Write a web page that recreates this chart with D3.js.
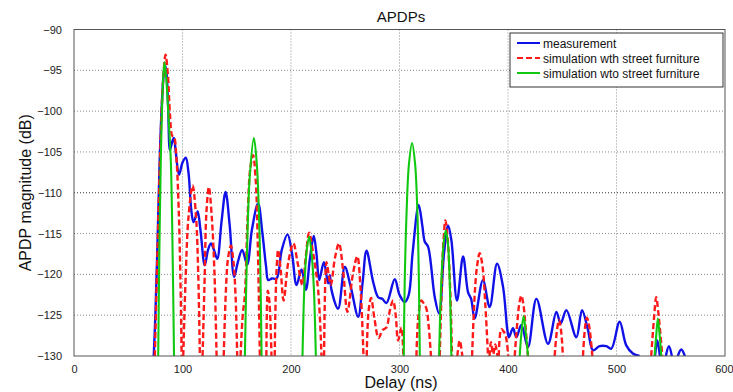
<!DOCTYPE html>
<html><head><meta charset="utf-8">
<script src="https://cdn.jsdelivr.net/npm/d3@7"></script>
<style>body{margin:0;background:#fff}svg{display:block;font-family:"Liberation Sans",Arial,sans-serif}</style>
</head><body><svg id="c" width="733" height="392"></svg>
<script>
// ---- data ----
const xTicks = [0, 100, 200, 300, 400, 500, 600];
const yTicks = [-90, -95, -100, -105, -110, -115, -120, -125, -130];
const seriesNames = ["measurement", "simulation wth street furniture", "simulation wto street furniture"];

// measurement: delay (ns), magnitude (dB); null = gap (below axis)
const measDelay = [73.5,75,77,79,81,82.8,84,85.3,86.8,88.4,90,92,93.8,96.8,100,103,105.5,108,110,112,114,116.5,120.5,123.5,126.2,129,132,136,139.7,143.5,147.6,151,155,159.6,164,169.7,173.5,177,179,182.5,186.7,191.5,196.8,201,205.1,209.7,213.7,217.5,221,223.5,226,230.3,234.2,235.8,237.3,243.4,249.6,255,261.9,266,269.6,275.7,280.3,284,288,295.6,300,304.8,308.5,312,317.7,321,323.3,326.3,332.5,336.5,341,344.8,347.8,353,358.6,363.2,366,369.3,376.9,383.1,389.9,395.4,399.4,400.9,404.6,407.7,412.3,418.4,426.2,436.9,444.6,448.5,453.8,463,468.2,473.7,478.3,484.4,490.6,495.2,502.9,509,515.1,521.3,528,535.5,537.6,540,543,545.5,548.3,551,554,556.5,559.7,563];
const measDB = [-130,-125,-116,-106,-99,-95.3,-94.4,-95.4,-99.5,-104.8,-104,-103.3,-105,-107.8,-106.3,-105.7,-107.5,-112,-113.6,-113,-112.3,-114.5,-118.9,-117,-116.2,-117,-118.1,-113.5,-109.9,-114,-120.3,-118.5,-117,-118.8,-114.5,-111.3,-114.8,-119,-120.7,-120.5,-120.5,-117,-115.1,-117.5,-121.3,-119.4,-121.9,-118,-115.3,-117.5,-120.7,-118.5,-121.1,-120.1,-121.9,-124.2,-119.1,-121.5,-125.2,-121,-117.1,-120.9,-122.8,-123,-123.5,-120.6,-122.5,-123.4,-122.5,-117.5,-111.5,-114,-116,-116.6,-122.8,-124.8,-117.5,-114,-115.8,-123.2,-117.8,-122.2,-123,-125.4,-120.7,-124,-118.7,-121.5,-126.8,-127.7,-126.6,-127.7,-126.2,-128.9,-123,-128.5,-124.6,-126,-124.4,-127.7,-124.4,-126.8,-129.3,-128.8,-128.8,-129.1,-125.8,-128.7,-129.7,-130,null,-130,-128.1,-130,null,-130,-128.8,-130,null,-130,-129.2,-130];

// simulation with street furniture
const wthDelay = [74.5,77,79.5,82,84.4,86.5,88.5,90.5,92.3,94.5,96.5,98,99.2,100,100.7,103,105.5,109.3,112.5,114.5,116,117,118.5,120.5,122,124.3,127,129.5,131.4,135,138,140,142,144.6,147,149,150.4,152,153.5,155.5,157.5,160,162.5,165.1,167.5,169.5,171.3,175,177.3,178.6,180.2,182,183,185,186.5,188.2,190.5,193.2,197.5,202.2,206,210.5,213.5,216.7,220.4,225,228.1,229,230.5,232.7,234.7,236.7,240.5,244.2,248,252,257,261.1,264,266.8,268,269.8,271.5,273.8,277,280.7,284.5,288,291,294.1,296.5,298.7,301.8,303.5,310,315.6,317.5,320.2,322.5,324.8,327,329,333,337.1,339,340.5,342.3,344.3,346.5,348.4,350,353.3,355.5,357.9,360,366.9,369.5,371.5,373.9,376.5,379,381.6,382,383,384.3,386.3,388.3,390.3,391,391.5,393.8,396,398,400.2,403,406.2,408.5,410.5,412.3,414.3,416.5,418.4,430,443,445,447,449,450.6,460,469.1,471,472.7,475,477.7,500,532,534.5,536.6,538.8,542.2];
const wthDB = [-130,-117,-105,-96.5,-93.1,-95.5,-100.5,-103,-103.2,-106,-112,-120,-130,null,-130,-120,-113,-109.1,-113,-120,-130,null,-130,-120,-112.5,-109.3,-113,-120,-130,null,-130,-122,-118,-116.5,-118.5,-123,-130,null,-130,-125,-122.5,-113,-107,-105.4,-108.5,-117,-130,null,-130,-122,-123.5,-130,null,-130,-120,-117,-119.5,-123.2,-118.5,-116.2,-118.5,-121.3,-118,-114.9,-117.4,-121.9,-130,null,-130,-118.5,-120,-121.3,-118,-116.2,-119.5,-124.6,-120,-117.8,-121.5,-130,null,-130,-124.5,-122.9,-125.5,-127.8,-126.8,-126.5,-124.5,-123.2,-125,-128.1,-126.5,-130,null,-130,-125,-123.2,-123.6,-124.2,-126.5,-130,null,-130,-121,-116,-113.4,-115.5,-121,-130,null,-130,-128.1,-130,null,-130,-122,-119,-117.4,-119,-123.5,-130,null,-130,-128.3,-129.8,-128.6,-130,null,-130,-126.7,-127,-127.6,-130,null,-130,-126,-123.5,-122.6,-123.8,-127,-130,null,-130,-127,-125.6,-127,-130,null,-130,-126.5,-125.3,-126.5,-130,null,-130,-125.5,-122.8,-125,-130];

// simulation without street furniture
const wtoDelay = [77.6,78.6,80,81.7,83.3,85,87,89.2,90.5,92.2,120,157.5,159.5,162,165.8,168.5,171,172.9,190,210.6,212.5,214.5,216.7,219,221,222.9,260,303.9,304.8,306.5,308.7,311.6,314.4,316.5,317.9,318.7,330,336.5,338.5,340.5,342.6,344.5,346.3,347.8,380,410.8,412.5,414.4,416.3,418.4,480,535.1,536.6,538.1,539.8,541.3];
const wtoDB = [-130,-118,-106,-97.5,-94,-96,-100.5,-106,-114,-130,null,-130,-117,-108,-103.3,-106.5,-115,-130,null,-130,-121,-117,-115.4,-117.5,-121.5,-130,null,-130,-121,-112.5,-106.5,-103.9,-106.5,-112.5,-121,-130,null,-130,-121,-116.5,-114.6,-116,-121,-130,null,-130,-127,-125.1,-127,-130,null,-130,-127.5,-125.4,-127.5,-130];

// ---- chart ----
const W = 733, H = 392;
const m = {left: 74, right: 733 - 725, top: 29.5, bottom: 392 - 356};
const svg = d3.select("#c");
const x = d3.scaleLinear().domain([0, 600]).range([m.left, W - m.right]);
const y = d3.scaleLinear().domain([-130, -90]).range([H - m.bottom, m.top]);

svg.append("defs").append("clipPath").attr("id", "clip")
  .append("rect").attr("x", x(0)).attr("y", y(-90)).attr("width", x(600) - x(0)).attr("height", y(-130) - y(-90));

// grid
const grid = svg.append("g");
grid.selectAll(".gx").data(xTicks.slice(1, -1)).join("line")
  .attr("x1", d => x(d)).attr("x2", d => x(d)).attr("y1", y(-90)).attr("y2", y(-130))
  .attr("stroke", "#8a8a8a").attr("stroke-width", 1).attr("stroke-dasharray", "1,2");
grid.selectAll(".gy").data(yTicks.slice(1, -1)).join("line")
  .attr("y1", d => y(d)).attr("y2", d => y(d)).attr("x1", x(0)).attr("x2", x(600))
  .attr("stroke", d => d === -110 ? "#333" : "#8a8a8a").attr("stroke-width", 1).attr("stroke-dasharray", "1,2");

// axes
const xAxis = d3.axisBottom(x).tickValues(xTicks).tickSize(0).tickPadding(9);
const yAxis = d3.axisLeft(y).tickValues(yTicks).tickSize(0).tickPadding(12);
const gx = svg.append("g").attr("transform", `translate(0,${y(-130)})`).call(xAxis);
const gy = svg.append("g").attr("transform", `translate(${x(0)},0)`).call(yAxis);
[gx, gy].forEach(g => {
  g.select(".domain").remove();
  g.selectAll("text").attr("font-size", 11).attr("fill", "#222").attr("font-family", "'Liberation Sans', Arial, sans-serif");
});
gx.selectAll(".tick").filter(d => d === 600).select("text").attr("text-anchor", "end").attr("dx", 8);

// series
const line = d3.line().defined(d => d[1] !== null).x(d => x(d[0])).y(d => y(d[1])).curve(d3.curveCatmullRom.alpha(0.5));
const zipS = (a, b) => a.map((v, i) => [v, b[i]]);
const plot = svg.append("g").attr("clip-path", "url(#clip)");
plot.append("path").datum(zipS(measDelay, measDB)).attr("d", line)
  .attr("fill", "none").attr("stroke", "#1010e8").attr("stroke-width", 2.4).attr("stroke-linejoin", "round");
plot.append("path").datum(zipS(wthDelay, wthDB)).attr("d", line)
  .attr("fill", "none").attr("stroke", "#ff1a1a").attr("stroke-width", 2.4).attr("stroke-dasharray", "6,3");
plot.append("path").datum(zipS(wtoDelay, wtoDB)).attr("d", line)
  .attr("fill", "none").attr("stroke", "#11c811").attr("stroke-width", 2.1).attr("stroke-linejoin", "round");

// frame
svg.append("rect").attr("x", x(0)).attr("y", y(-90)).attr("width", x(600) - x(0)).attr("height", y(-130) - y(-90))
  .attr("fill", "none").attr("stroke", "#555").attr("stroke-width", 1);

// titles
svg.append("text").attr("x", 401).attr("y", 22).attr("text-anchor", "middle").attr("font-size", 15).attr("fill", "#111").text("APDPs");
svg.append("text").attr("x", 401).attr("y", 388).attr("text-anchor", "middle").attr("font-size", 16).attr("fill", "#111").text("Delay (ns)");
svg.append("text").attr("transform", `translate(31,${(y(-90) + y(-130)) / 2}) rotate(-90)`).attr("text-anchor", "middle")
  .attr("font-size", 16).attr("fill", "#111").text("APDP magnitude (dB)");

// legend
const lg = svg.append("g");
lg.append("rect").attr("x", 510).attr("y", 33).attr("width", 213).attr("height", 54).attr("fill", "#fff").attr("stroke", "#333").attr("stroke-width", 1);
const styles = [
  {c: "#1010e8", d: null}, {c: "#ff1a1a", d: "6,3"}, {c: "#11c811", d: null}
];
seriesNames.forEach((n, i) => {
  const yy = 43 + i * 15;
  lg.append("line").attr("x1", 517).attr("x2", 540).attr("y1", yy).attr("y2", yy)
    .attr("stroke", styles[i].c).attr("stroke-width", 2).attr("stroke-dasharray", styles[i].d);
  lg.append("text").attr("x", 543).attr("y", yy + 4.5).attr("font-size", 12).attr("fill", "#111").text(n);
});
</script></body></html>
